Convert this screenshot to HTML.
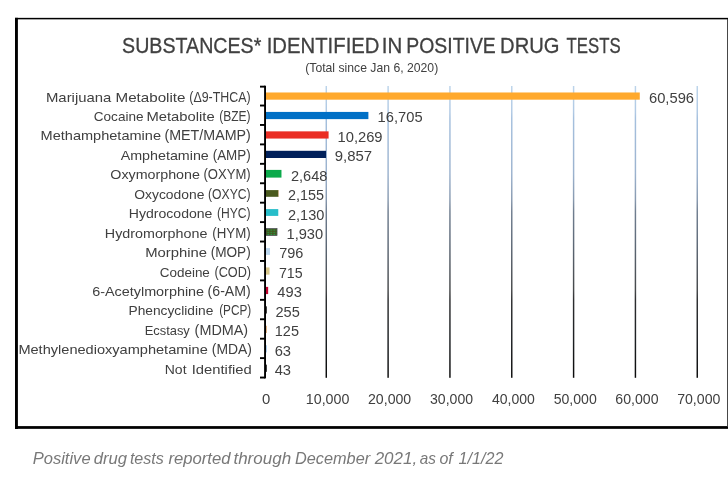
<!DOCTYPE html>
<html lang="en">
<head>
<meta charset="utf-8">
<title>Substances Identified in Positive Drug Tests</title>
<style>
html,body{margin:0;padding:0;background:#fff;}
body{width:728px;height:479px;overflow:hidden;position:relative;font-family:"Liberation Sans",sans-serif;}
svg{position:absolute;left:0;top:0;display:block;will-change:transform;}
svg text{font-family:"Liberation Sans",sans-serif;fill:#404040;}
svg text.t{stroke:#404040;stroke-width:0.3px;}
svg text.i{font-style:italic;fill:#787878;}
</style>
</head>
<body>
<svg width="728" height="479" viewBox="0 0 728 479">
<defs>
<linearGradient id="gl" x1="0" y1="0" x2="0" y2="1">
<stop offset="0" stop-color="#bcd4ea"/>
<stop offset="0.09" stop-color="#b0c9e4"/>
<stop offset="0.11" stop-color="#a5c0de"/>
<stop offset="0.30" stop-color="#9bb2ce"/>
<stop offset="0.39" stop-color="#8799af"/>
<stop offset="0.43" stop-color="#707e90"/>
<stop offset="0.53" stop-color="#5f6b7a"/>
<stop offset="0.70" stop-color="#454749"/>
<stop offset="0.735" stop-color="#2c2d2f"/>
<stop offset="0.87" stop-color="#1c1f22"/>
<stop offset="1" stop-color="#0a0a0a"/>
</linearGradient>
<pattern id="dots" x="266.6" y="228.9" width="3" height="2.2" patternUnits="userSpaceOnUse">
<rect width="3" height="2.2" fill="#44581f"/>
<rect x="1.1" y="0.7" width="1.1" height="1.0" fill="#14c764"/>
</pattern>
</defs>

<rect x="0" y="0" width="728" height="479" fill="#fff"/>
<rect x="15" y="17.85" width="713" height="1.5" fill="#000"/>
<rect x="15" y="17.8" width="2.9" height="411.2" fill="#000"/>
<rect x="15" y="426.1" width="713" height="2.75" fill="#000"/>
<rect x="727.1" y="19" width="0.9" height="408" fill="#333"/>
<text class="t" y="52.75" font-size="22.9"><tspan x="122.12" textLength="139.21" lengthAdjust="spacingAndGlyphs">SUBSTANCES*</tspan> <tspan x="266.72" textLength="112.76" lengthAdjust="spacingAndGlyphs">IDENTIFIED</tspan> <tspan x="381.71" textLength="20.49" lengthAdjust="spacingAndGlyphs">IN</tspan> <tspan x="406.30" textLength="89.52" lengthAdjust="spacingAndGlyphs">POSITIVE</tspan> <tspan x="500.09" textLength="59.42" lengthAdjust="spacingAndGlyphs">DRUG</tspan> <tspan x="566.62" textLength="54.14" lengthAdjust="spacingAndGlyphs">TESTS</tspan></text>
<text x="305.24" y="72.00" font-size="11.9" textLength="133.00" lengthAdjust="spacingAndGlyphs">(Total since Jan 6, 2020)</text>
<rect x="325.55" y="86.0" width="1.45" height="291.8" fill="url(#gl)"/>
<rect x="387.38" y="86.0" width="1.45" height="291.8" fill="url(#gl)"/>
<rect x="449.21" y="86.0" width="1.45" height="291.8" fill="url(#gl)"/>
<rect x="511.04" y="86.0" width="1.45" height="291.8" fill="url(#gl)"/>
<rect x="572.87" y="86.0" width="1.45" height="291.8" fill="url(#gl)"/>
<rect x="634.70" y="86.0" width="1.45" height="291.8" fill="url(#gl)"/>
<rect x="696.53" y="86.0" width="1.45" height="291.8" fill="url(#gl)"/>
<rect x="265.90" y="92.48" width="373.87" height="7.20" fill="#FFA92D"/>
<text y="101.60" font-size="13.4"><tspan x="45.97" textLength="65.31" lengthAdjust="spacingAndGlyphs">Marijuana</tspan> <tspan x="115.55" textLength="69.92" lengthAdjust="spacingAndGlyphs">Metabolite</tspan> <tspan x="189.32" font-size="14.0" textLength="61.32" lengthAdjust="spacingAndGlyphs">(Δ9-THCA)</tspan></text>
<text x="648.96" y="102.70" font-size="14.8" textLength="45.08" lengthAdjust="spacingAndGlyphs">60,596</text>
<rect x="265.90" y="111.92" width="102.49" height="7.20" fill="#0070C6"/>
<text y="121.04" font-size="13.4"><tspan x="93.82" textLength="49.67" lengthAdjust="spacingAndGlyphs">Cocaine</tspan> <tspan x="146.48" textLength="68.17" lengthAdjust="spacingAndGlyphs">Metabolite</tspan> <tspan x="219.15" font-size="14.0" textLength="31.49" lengthAdjust="spacingAndGlyphs">(BZE)</tspan></text>
<text x="377.60" y="122.17" font-size="14.8" textLength="45.01" lengthAdjust="spacingAndGlyphs">16,705</text>
<rect x="265.90" y="131.36" width="62.69" height="7.20" fill="#EA2E24"/>
<text y="140.48" font-size="13.4"><tspan x="40.60" textLength="120.42" lengthAdjust="spacingAndGlyphs">Methamphetamine</tspan> <tspan x="164.51" font-size="14.0" textLength="86.24" lengthAdjust="spacingAndGlyphs">(MET/MAMP)</tspan></text>
<text x="337.49" y="141.64" font-size="14.8" textLength="45.09" lengthAdjust="spacingAndGlyphs">10,269</text>
<rect x="265.90" y="150.80" width="60.15" height="7.20" fill="#00205B"/>
<text y="159.92" font-size="13.4"><tspan x="120.66" textLength="88.14" lengthAdjust="spacingAndGlyphs">Amphetamine</tspan> <tspan x="212.66" font-size="14.0" textLength="38.05" lengthAdjust="spacingAndGlyphs">(AMP)</tspan></text>
<text x="334.69" y="161.11" font-size="14.8" textLength="37.36" lengthAdjust="spacingAndGlyphs">9,857</text>
<rect x="265.90" y="169.90" width="15.57" height="7.70" fill="#0BAA4B"/>
<text y="179.36" font-size="13.4"><tspan x="110.32" textLength="89.60" lengthAdjust="spacingAndGlyphs">Oxymorphone</tspan> <tspan x="203.48" font-size="14.0" textLength="47.21" lengthAdjust="spacingAndGlyphs">(OXYM)</tspan></text>
<text x="290.97" y="180.58" font-size="14.8" textLength="36.45" lengthAdjust="spacingAndGlyphs">2,648</text>
<rect x="265.90" y="190.10" width="12.52" height="6.70" fill="#4A5A1E"/>
<rect x="278.32" y="190.10" width="0.5" height="6.70" fill="#d8a878"/>
<text y="198.80" font-size="13.4"><tspan x="134.34" textLength="70.06" lengthAdjust="spacingAndGlyphs">Oxycodone</tspan> <tspan x="208.04" font-size="14.0" textLength="42.59" lengthAdjust="spacingAndGlyphs">(OXYC)</tspan></text>
<text x="287.98" y="200.05" font-size="14.8" textLength="36.00" lengthAdjust="spacingAndGlyphs">2,155</text>
<rect x="265.90" y="209.10" width="12.37" height="6.80" fill="#27BDC9"/>
<text y="218.24" font-size="13.4"><tspan x="128.84" textLength="83.57" lengthAdjust="spacingAndGlyphs">Hydrocodone</tspan> <tspan x="216.94" font-size="14.0" textLength="33.68" lengthAdjust="spacingAndGlyphs">(HYC)</tspan></text>
<text x="287.97" y="219.52" font-size="14.8" textLength="36.37" lengthAdjust="spacingAndGlyphs">2,130</text>
<rect x="265.90" y="228.60" width="11.13" height="6.90" fill="url(#dots)" stroke="#45454f" stroke-width="0.7"/>
<text y="237.68" font-size="13.4"><tspan x="104.82" textLength="102.60" lengthAdjust="spacingAndGlyphs">Hydromorphone</tspan> <tspan x="212.37" font-size="14.0" textLength="38.34" lengthAdjust="spacingAndGlyphs">(HYM)</tspan></text>
<text x="286.50" y="238.99" font-size="14.8" textLength="36.65" lengthAdjust="spacingAndGlyphs">1,930</text>
<rect x="265.90" y="248.10" width="4.12" height="6.80" fill="#BBD6EE"/>
<text y="257.12" font-size="13.4"><tspan x="145.18" textLength="61.78" lengthAdjust="spacingAndGlyphs">Morphine</tspan> <tspan x="210.65" font-size="14.0" textLength="40.09" lengthAdjust="spacingAndGlyphs">(MOP)</tspan></text>
<text x="279.28" y="258.46" font-size="14.8" textLength="24.15" lengthAdjust="spacingAndGlyphs">796</text>
<rect x="265.90" y="267.44" width="3.62" height="7.20" fill="#D8C78A"/>
<text y="276.56" font-size="13.4"><tspan x="159.73" textLength="50.15" lengthAdjust="spacingAndGlyphs">Codeine</tspan> <tspan x="214.41" font-size="14.0" textLength="36.66" lengthAdjust="spacingAndGlyphs">(COD)</tspan></text>
<text x="278.89" y="277.93" font-size="14.8" textLength="23.69" lengthAdjust="spacingAndGlyphs">715</text>
<rect x="265.90" y="286.88" width="2.25" height="7.20" fill="#C1002C"/>
<text y="296.00" font-size="13.4"><tspan x="92.18" textLength="111.95" lengthAdjust="spacingAndGlyphs">6-Acetylmorphine</tspan> <tspan x="207.62" font-size="14.0" textLength="43.13" lengthAdjust="spacingAndGlyphs">(6-AM)</tspan></text>
<text x="277.37" y="297.40" font-size="14.8" textLength="24.47" lengthAdjust="spacingAndGlyphs">493</text>
<rect x="265.90" y="306.32" width="0.90" height="7.20" fill="#111111"/>
<text y="315.44" font-size="13.4"><tspan x="128.47" textLength="84.83" lengthAdjust="spacingAndGlyphs">Phencyclidine</tspan> <tspan x="219.16" font-size="14.0" textLength="32.14" lengthAdjust="spacingAndGlyphs">(PCP)</tspan></text>
<text x="275.47" y="316.87" font-size="14.8" textLength="24.33" lengthAdjust="spacingAndGlyphs">255</text>
<rect x="265.90" y="325.76" width="0.90" height="7.20" fill="#D9A066"/>
<text y="334.88" font-size="13.4"><tspan x="144.63" textLength="45.21" lengthAdjust="spacingAndGlyphs">Ecstasy</tspan> <tspan x="194.60" font-size="14.0" textLength="53.58" lengthAdjust="spacingAndGlyphs">(MDMA)</tspan></text>
<text x="274.81" y="336.34" font-size="14.8" textLength="24.18" lengthAdjust="spacingAndGlyphs">125</text>
<rect x="265.90" y="345.20" width="0.90" height="7.20" fill="#9CC3E6"/>
<text y="354.32" font-size="13.4"><tspan x="18.40" textLength="189.42" lengthAdjust="spacingAndGlyphs">Methylenedioxyamphetamine</tspan> <tspan x="211.83" font-size="14.0" textLength="40.11" lengthAdjust="spacingAndGlyphs">(MDA)</tspan></text>
<text x="274.66" y="355.81" font-size="14.8" textLength="16.40" lengthAdjust="spacingAndGlyphs">63</text>
<rect x="265.90" y="364.64" width="0.90" height="7.20" fill="#111111"/>
<text y="373.76" font-size="13.4"><tspan x="164.75" textLength="21.78" lengthAdjust="spacingAndGlyphs">Not</tspan> <tspan x="191.73" textLength="60.01" lengthAdjust="spacingAndGlyphs">Identified</tspan></text>
<text x="274.67" y="375.28" font-size="14.8" textLength="16.39" lengthAdjust="spacingAndGlyphs">43</text>
<rect x="264.1" y="85.7" width="1.9" height="292.7" fill="#000"/>
<rect x="260" y="85.70" width="5" height="1.9" fill="#000"/>
<rect x="260" y="104.58" width="5" height="1.9" fill="#000"/>
<rect x="260" y="124.01" width="5" height="1.9" fill="#000"/>
<rect x="260" y="143.44" width="5" height="1.9" fill="#000"/>
<rect x="260" y="162.87" width="5" height="1.9" fill="#000"/>
<rect x="260" y="182.30" width="5" height="1.9" fill="#000"/>
<rect x="260" y="201.73" width="5" height="1.9" fill="#000"/>
<rect x="260" y="221.16" width="5" height="1.9" fill="#000"/>
<rect x="260" y="240.59" width="5" height="1.9" fill="#000"/>
<rect x="260" y="260.02" width="5" height="1.9" fill="#000"/>
<rect x="260" y="279.45" width="5" height="1.9" fill="#000"/>
<rect x="260" y="298.88" width="5" height="1.9" fill="#000"/>
<rect x="260" y="318.31" width="5" height="1.9" fill="#000"/>
<rect x="260" y="337.74" width="5" height="1.9" fill="#000"/>
<rect x="260" y="357.17" width="5" height="1.9" fill="#000"/>
<rect x="260" y="376.60" width="5" height="1.9" fill="#000"/>
<text x="261.90" y="403.70" font-size="14.3" textLength="8.27" lengthAdjust="spacingAndGlyphs">0</text>
<text x="305.80" y="403.70" font-size="14.3" textLength="43.62" lengthAdjust="spacingAndGlyphs">10,000</text>
<text x="367.99" y="403.70" font-size="14.3" textLength="43.25" lengthAdjust="spacingAndGlyphs">20,000</text>
<text x="430.00" y="403.70" font-size="14.3" textLength="43.07" lengthAdjust="spacingAndGlyphs">30,000</text>
<text x="492.04" y="403.70" font-size="14.3" textLength="42.86" lengthAdjust="spacingAndGlyphs">40,000</text>
<text x="553.63" y="403.70" font-size="14.3" textLength="43.11" lengthAdjust="spacingAndGlyphs">50,000</text>
<text x="615.31" y="403.70" font-size="14.3" textLength="43.25" lengthAdjust="spacingAndGlyphs">60,000</text>
<text x="677.14" y="403.70" font-size="14.3" textLength="43.25" lengthAdjust="spacingAndGlyphs">70,000</text>
<text class="i" y="464.20" font-size="17"><tspan x="32.70" textLength="57.90" lengthAdjust="spacingAndGlyphs">Positive</tspan> <tspan x="93.66" textLength="33.39" lengthAdjust="spacingAndGlyphs">drug</tspan> <tspan x="129.88" textLength="33.93" lengthAdjust="spacingAndGlyphs">tests</tspan> <tspan x="168.41" textLength="62.17" lengthAdjust="spacingAndGlyphs">reported</tspan> <tspan x="233.44" textLength="57.66" lengthAdjust="spacingAndGlyphs">through</tspan> <tspan x="295.01" textLength="75.12" lengthAdjust="spacingAndGlyphs">December</tspan> <tspan x="374.68" textLength="42.47" lengthAdjust="spacingAndGlyphs">2021,</tspan> <tspan x="419.76" textLength="16.17" lengthAdjust="spacingAndGlyphs">as</tspan> <tspan x="439.38" textLength="13.34" lengthAdjust="spacingAndGlyphs">of</tspan> <tspan x="458.60" textLength="44.81" lengthAdjust="spacingAndGlyphs">1/1/22</tspan></text>
</svg>
</body>
</html>
